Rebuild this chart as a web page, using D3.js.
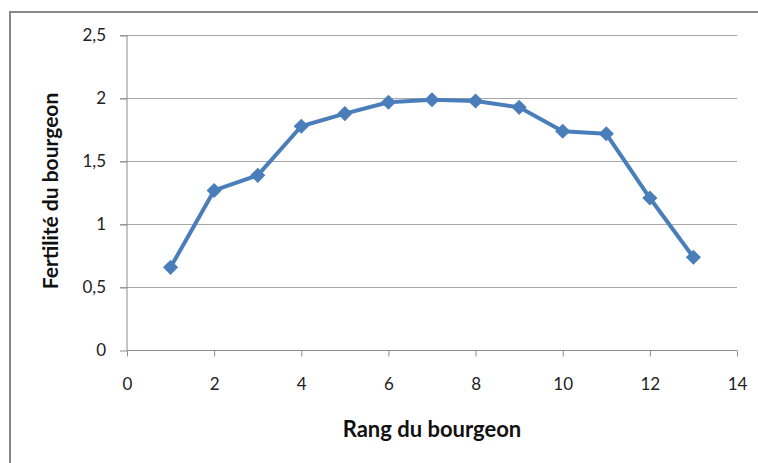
<!DOCTYPE html>
<html><head><meta charset="utf-8">
<script src="https://cdn.jsdelivr.net/npm/d3@7"></script>
<style>body{margin:0;background:#fff}svg{display:block}text{font-family:Lato,"Open Sans",sans-serif}</style>
</head><body>
<svg id="c" width="758" height="463"></svg>
<script>
const rangs = [1,2,3,4,5,6,7,8,9,10,11,12,13];
const fertilite = [0.66,1.27,1.39,1.78,1.88,1.97,1.99,1.98,1.93,1.74,1.72,1.21,0.74];
const xTicks = [0,2,4,6,8,10,12,14];
const yTicks = [0,0.5,1,1.5,2,2.5];
const xTitle = "Rang du bourgeon";
const yTitle = "Fertilité du bourgeon";

const svg = d3.select("#c");
// chart border
svg.append("path").attr("d","M10,463V12H758").attr("fill","none").attr("stroke","#878787").attr("stroke-width",2);

const x = d3.scaleLinear().domain([0,14]).range([127,737]);
const y = d3.scaleLinear().domain([0,2.5]).range([350.5,35.5]);
const fmt = d => String(d).replace(".",",");

// gridlines
svg.append("g").selectAll("line").data(yTicks.filter(d=>d>0)).join("line")
  .attr("x1",120).attr("x2",737).attr("y1",d=>y(d)).attr("y2",d=>y(d))
  .attr("stroke","#a6a6a6").attr("stroke-width",1.2);

// y axis
const ya = svg.append("g").attr("transform","translate(127,0)")
  .call(d3.axisLeft(y).tickValues(yTicks).tickFormat(fmt).tickSize(7).tickPadding(14));
ya.select(".domain").attr("stroke","#8c8c8c").attr("d","M0,35.5V350.5");
ya.selectAll(".tick line").attr("stroke","#8c8c8c");
ya.selectAll("text").attr("font-size",17).attr("fill","#222");

// x axis
const xa = svg.append("g").attr("transform","translate(0,350.5)")
  .call(d3.axisBottom(x).tickValues(xTicks).tickFormat(fmt).tickSize(6).tickPadding(21));
xa.select(".domain").attr("stroke","#8c8c8c").attr("d","M127,0H737");
xa.selectAll(".tick line").attr("stroke","#8c8c8c");
xa.selectAll("text").attr("font-size",17).attr("fill","#222");

// titles
svg.append("text").attr("x",432).attr("y",437).attr("text-anchor","middle")
  .attr("font-size",22).attr("font-weight","bold").attr("fill","#111").text(xTitle);
svg.append("text").attr("transform","translate(58,191) rotate(-90)").attr("text-anchor","middle")
  .attr("font-size",21).attr("font-weight","bold").attr("fill","#111").text(yTitle);

// line
const pts = rangs.map((r,i)=>({r, v: fertilite[i]}));
svg.append("path").datum(pts)
  .attr("d", d3.line().x(d=>x(d.r)).y(d=>y(d.v)))
  .attr("fill","none").attr("stroke","#4a7ebb").attr("stroke-width",4).attr("stroke-linejoin","round");
svg.append("g").selectAll("path").data(pts).join("path")
  .attr("d", d3.symbol(d3.symbolSquare, 115)())
  .attr("transform", d=>`translate(${x(d.r)},${y(d.v)}) rotate(45)`)
  .attr("fill","#4a7ebb");
</script>
</body></html>
